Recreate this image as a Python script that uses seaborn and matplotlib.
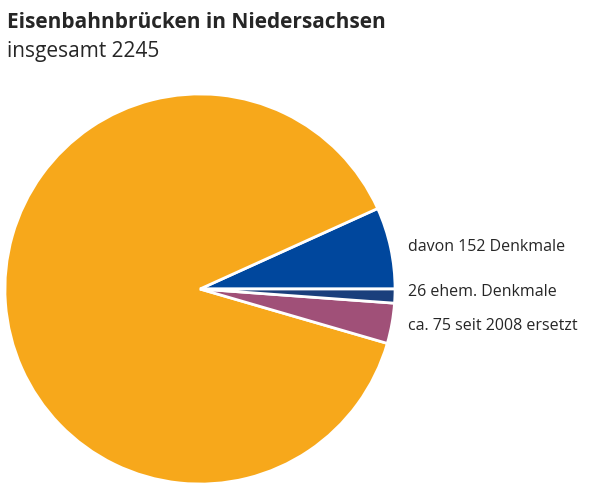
import matplotlib
matplotlib.use("Agg")
import matplotlib.pyplot as plt
import seaborn as sns

sns.set_theme(style="white")
categories = ["davon 152 Denkmale", "übrige", "ca. 75 seit 2008 ersetzt", "26 ehem. Denkmale"]
values = [152, 1992, 75, 26]
colors = ["#00479D", "#F7A81B", "#A05078", "#1A3F7C"]

fig = plt.figure(figsize=(6.08, 4.85), dpi=100)
ax = fig.add_axes([3/608, -2/485, 394/608, 394/485])
ax.pie(values, colors=colors, startangle=0, counterclock=True,
       wedgeprops=dict(edgecolor="white", linewidth=2))
ax.set_xlim(-1.01, 1.01); ax.set_ylim(-1.01, 1.01)
ax.set_aspect("equal")

fig.text(0.012, 0.975, "Eisenbahnbrücken in Niedersachsen", fontsize=15, fontweight="bold",
         family="Open Sans", va="top")
fig.text(0.012, 0.915, "insgesamt 2245", fontsize=15, family="Open Sans", va="top")
ys = [247, 292, 326]
labs = [categories[0], categories[3], categories[2]]
for y, t in zip(ys, labs):
    fig.text(408/608, 1 - y/485, t, fontsize=11.5, family="Open Sans", va="center")
fig.savefig("out.png", dpi=100)
